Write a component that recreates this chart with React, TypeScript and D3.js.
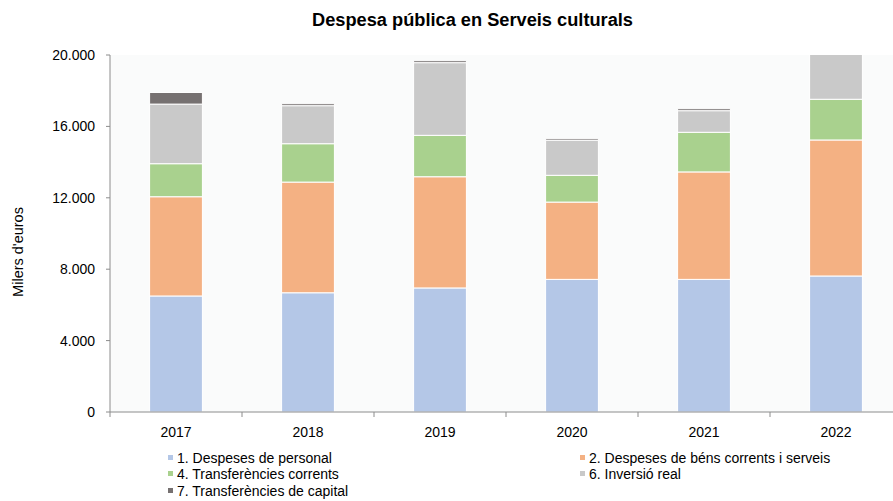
import React from "react";
import * as d3 from "d3";

const years = ["2017", "2018", "2019", "2020", "2021", "2022"];
const personal = [6500, 6680, 6950, 7430, 7430, 7620];
const bens = [5560, 6200, 6230, 4330, 6020, 7620];
const transfCorrents = [1850, 2150, 2320, 1500, 2220, 2280];
const inversio = [3340, 2130, 4070, 1960, 1210, 2800];
const transfCapital = [650, 110, 110, 90, 110, 100];
const yTicks = [0, 4000, 8000, 12000, 16000, 20000];

const seriesNames = [
  "1. Despeses de personal",
  "2. Despeses de béns corrents i serveis",
  "4. Transferències corrents",
  "6. Inversió real",
  "7. Transferències de capital",
];
const seriesColors = ["#b4c7e7", "#f4b183", "#a9d18e", "#c9c9c9", "#767171"];
const seriesData = [personal, bens, transfCorrents, inversio, transfCapital];

const W = 893, H = 501;
const M = { left: 110, top: 55, right: 902, bottom: 412 };
const font = "Liberation Sans, Arial, sans-serif";

export default function App() {
  const x = d3.scaleBand().domain(years).range([M.left, M.right]).paddingInner(0.6).paddingOuter(0.3);
  const step = (M.right - M.left) / years.length;
  const y = d3.scaleLinear().domain([0, 20000]).range([M.bottom, M.top]);
  const rows = years.map((yr, i) => {
    const o: any = { year: yr };
    seriesData.forEach((s, k) => (o["s" + k] = s[i]));
    return o;
  });
  const stack = d3.stack().keys(seriesData.map((_, k) => "s" + k))(rows as any);
  const fmt = (v: number) => d3.format(",")(v).replace(/,/g, ".");

  const legendPos = [
    [168, 463], [580, 463], [168, 479], [580, 479], [168, 496],
  ];

  return (
    <svg width={W} height={H} style={{ position: "absolute", left: 0, top: 0, background: "#fff" }} fontFamily={font}>
      <defs>
        <clipPath id="plot">
          <rect x={M.left} y={M.top} width={M.right - M.left} height={M.bottom - M.top} />
        </clipPath>
      </defs>
      <text x={312} y={26} fontSize={17.5} fontWeight="bold" fill="#000" textLength={321} lengthAdjust="spacingAndGlyphs">
        Despesa pública en Serveis culturals
      </text>
      <rect x={M.left} y={M.top} width={M.right - M.left} height={M.bottom - M.top} fill="#fafbfb" />
      <g clipPath="url(#plot)">
        {stack.map((layer, k) => (
          <g key={k} fill={seriesColors[k]}>
            {layer.map((d, i) => (
              <rect key={i} x={x(years[i])!} width={x.bandwidth()} y={y(d[1])} height={y(d[0]) - y(d[1])} stroke="#fff" strokeWidth={1} />
            ))}
          </g>
        ))}
      </g>
      <line x1={M.left} x2={M.left} y1={M.top} y2={M.bottom} stroke="#8c8c8c" />
      {yTicks.map((t) => (
        <g key={t}>
          <line x1={M.left - 4} x2={M.left} y1={y(t)} y2={y(t)} stroke="#8c8c8c" />
          <text x={M.left - 15} y={y(t)} dy="0.35em" textAnchor="end" fontSize={14} fill="#000">{fmt(t)}</text>
        </g>
      ))}
      <line x1={M.left} x2={M.right} y1={M.bottom} y2={M.bottom} stroke="#8c8c8c" />
      {d3.range(years.length + 1).map((i) => (
        <line key={i} x1={M.left + i * step} x2={M.left + i * step} y1={M.bottom} y2={M.bottom + 5} stroke="#8c8c8c" />
      ))}
      {years.map((yr) => (
        <text key={yr} x={x(yr)! + x.bandwidth() / 2} y={437} textAnchor="middle" fontSize={14} fill="#000">{yr}</text>
      ))}
      <text transform={`translate(23,252) rotate(-90)`} textAnchor="middle" fontSize={14.5} fill="#000">
        Milers d'euros
      </text>
      {seriesNames.map((n, k) => (
        <g key={n} transform={`translate(${legendPos[k][0]},${legendPos[k][1]})`}>
          <rect x={0} y={-8} width={5} height={5} fill={seriesColors[k]} />
          <text x={9} y={0} fontSize={14} fill="#000">{n}</text>
        </g>
      ))}
    </svg>
  );
}
